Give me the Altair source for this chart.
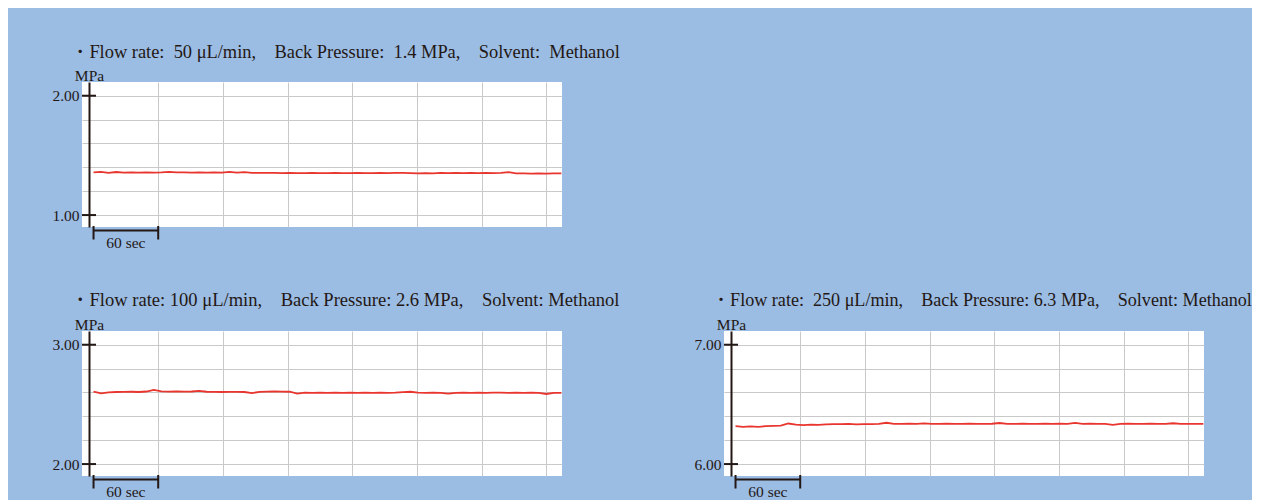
import altair as alt
import pandas as pd

# ---------------- data ----------------
TIME_STEP_SEC = 7  # sampling step of the hand-read series

P1 = [1.357, 1.362, 1.354, 1.361, 1.356, 1.357, 1.356, 1.357, 1.356, 1.357,
      1.362, 1.358, 1.357, 1.355, 1.357, 1.356, 1.357, 1.355, 1.362, 1.356,
      1.359, 1.353, 1.354, 1.353, 1.353, 1.352, 1.353, 1.352, 1.352, 1.353,
      1.352, 1.352, 1.353, 1.352, 1.352, 1.353, 1.352, 1.352, 1.353, 1.352,
      1.353, 1.354, 1.351, 1.349, 1.352, 1.350, 1.353, 1.352, 1.353, 1.351,
      1.353, 1.352, 1.353, 1.352, 1.353, 1.360, 1.350, 1.349, 1.348, 1.350,
      1.348, 1.349, 1.350]

P2 = [2.607, 2.592, 2.600, 2.604, 2.605, 2.606, 2.604, 2.608, 2.622, 2.609,
      2.607, 2.608, 2.607, 2.608, 2.614, 2.606, 2.605, 2.604, 2.605, 2.605,
      2.604, 2.595, 2.605, 2.607, 2.608, 2.607, 2.606, 2.590, 2.598, 2.597,
      2.598, 2.597, 2.599, 2.597, 2.598, 2.596, 2.598, 2.597, 2.598, 2.596,
      2.598, 2.603, 2.606, 2.598, 2.597, 2.598, 2.596, 2.591, 2.597, 2.598,
      2.597, 2.598, 2.597, 2.598, 2.599, 2.597, 2.598, 2.597, 2.598, 2.596,
      2.587, 2.597, 2.597]

P3 = [6.318, 6.312, 6.316, 6.311, 6.318, 6.320, 6.322, 6.340, 6.330, 6.327,
      6.330, 6.329, 6.333, 6.335, 6.334, 6.336, 6.333, 6.335, 6.334, 6.337,
      6.346, 6.337, 6.336, 6.338, 6.337, 6.341, 6.337, 6.336, 6.338, 6.337,
      6.336, 6.338, 6.337, 6.336, 6.338, 6.344, 6.336, 6.337, 6.338, 6.337,
      6.336, 6.338, 6.337, 6.338, 6.336, 6.345, 6.337, 6.338, 6.337, 6.336,
      6.328, 6.337, 6.338, 6.336, 6.337, 6.338, 6.337, 6.336, 6.342, 6.337,
      6.336, 6.337, 6.336]

NB = "\u00a0"   # non-collapsing space
IS = "\u3000"   # ideographic space
TITLES = [
    f"・Flow rate:{NB}{NB}50 μL/min,{IS}Back Pressure:{NB}{NB}1.4 MPa,{IS}Solvent:{NB}{NB}Methanol",
    f"・Flow rate: 100 μL/min,{IS}Back Pressure: 2.6 MPa,{IS}Solvent: Methanol",
    f"・Flow rate:{NB}{NB}250 μL/min,{IS}Back Pressure: 6.3 MPa,{IS}Solvent: Methanol",
]

Y_GRID = [
    [1.0, 1.2, 1.4, 1.6, 1.8, 2.0],
    [2.0, 2.2, 2.4, 2.6, 2.8, 3.0],
    [6.0, 6.2, 6.4, 6.6, 6.8, 7.0],
]
Y_LABELED = [[1.0, 2.0], [2.0, 3.0], [6.0, 7.0]]

X_GRID = [60, 120, 180, 240, 300, 360, 420]
X_DOMAIN = [-10.7, 434.6]
SCALE_BAR = {"t0": [0], "t1": [60], "mid": [30], "label": ["60 sec"]}
SCALE_CAPS = [0, 60]

# ---------------- style ----------------
FONT = "Liberation Serif, Times New Roman, Noto Serif CJK JP, Noto Sans CJK JP"
INK = "#231815"
BLUE = "#9bbce3"
RED = "#e8352e"
GRID = "#c9c9c9"
W, H = 480, 145


def panel(values, ygrid, ylab, title, title_size, title_dx):
    lo, hi = min(ylab), max(ylab)
    df = pd.DataFrame({"t": [i * TIME_STEP_SEC for i in range(len(values))], "p": values})
    xs = alt.Scale(domain=X_DOMAIN, nice=False, zero=False)
    ys = alt.Scale(domain=[lo - 0.1, hi + 0.115], nice=False, zero=False)
    xaxis = alt.Axis(values=X_GRID, grid=True, gridColor=GRID, gridWidth=1,
                     labels=False, ticks=False, domain=False, title=None)
    yaxis = alt.Axis(values=ygrid, grid=True, gridColor=GRID, gridWidth=1,
                     ticks=False, domain=True, domainColor=INK, domainWidth=2,
                     offset=-7, labelPadding=10,
                     labelExpr="abs(datum.value - round(datum.value)) < 0.001 ? format(datum.value, '.2f') : ''",
                     labelFont=FONT, labelFontSize=15.5, labelColor=INK,
                     title="MPa", titleAngle=0, titleX=0, titleY=-2,
                     titleAlign="center", titleBaseline="alphabetic",
                     titleFont=FONT, titleFontSize=15.5, titleFontWeight="normal",
                     titleColor=INK)

    line = alt.Chart(df).mark_line(color=RED, strokeWidth=1.8).encode(
        x=alt.X("t:Q", scale=xs, axis=xaxis),
        y=alt.Y("p:Q", scale=ys, axis=yaxis),
    )
    ticks = alt.Chart(pd.DataFrame({"p": ylab})).mark_rule(
        color=INK, strokeWidth=2).encode(
        y=alt.Y("p:Q", scale=ys, axis=yaxis),
        x=alt.value(0), x2=alt.value(14),
    )
    bar_df = pd.DataFrame(SCALE_BAR)
    hbar = alt.Chart(bar_df).mark_rule(color=INK, strokeWidth=2, clip=False).encode(
        x=alt.X("t0:Q", scale=xs, axis=xaxis), x2="t1:Q", y=alt.value(148.5),
    )
    caps = alt.Chart(pd.DataFrame({"t0": SCALE_CAPS})).mark_rule(
        color=INK, strokeWidth=2, clip=False).encode(
        x=alt.X("t0:Q", scale=xs, axis=xaxis), y=alt.value(144), y2=alt.value(157.5),
    )
    lab = alt.Chart(bar_df).mark_text(font=FONT, fontSize=15.5, color=INK,
                                      baseline="alphabetic", clip=False).encode(
        x=alt.X("mid:Q", scale=xs, axis=xaxis), y=alt.value(165.5), text="label:N",
    )
    return alt.layer(line, ticks, hbar, caps, lab).properties(
        width=W, height=H,
        title=alt.TitleParams(text=title, anchor="start", frame="group", dx=title_dx,
                              offset=7, font=FONT, fontSize=title_size,
                              fontWeight="normal", color=INK),
    )


p1 = panel(P1, Y_GRID[0], Y_LABELED[0], TITLES[0], 18.4, -11)
p2 = panel(P2, Y_GRID[1], Y_LABELED[1], TITLES[1], 18.55, -11)
p3 = panel(P3, Y_GRID[2], Y_LABELED[2], TITLES[2], 18.1, -12)

row = alt.hconcat(p2, p3, spacing=162, bounds="flush")
chart = alt.vconcat(p1, row, spacing=104, bounds="flush").properties(
    background=BLUE,
    padding={"left": 43, "top": 34, "right": 0, "bottom": 0},
).configure_view(fill="white", stroke=None)

chart.save("out.html", embed_options={"renderer": "svg", "actions": False})
